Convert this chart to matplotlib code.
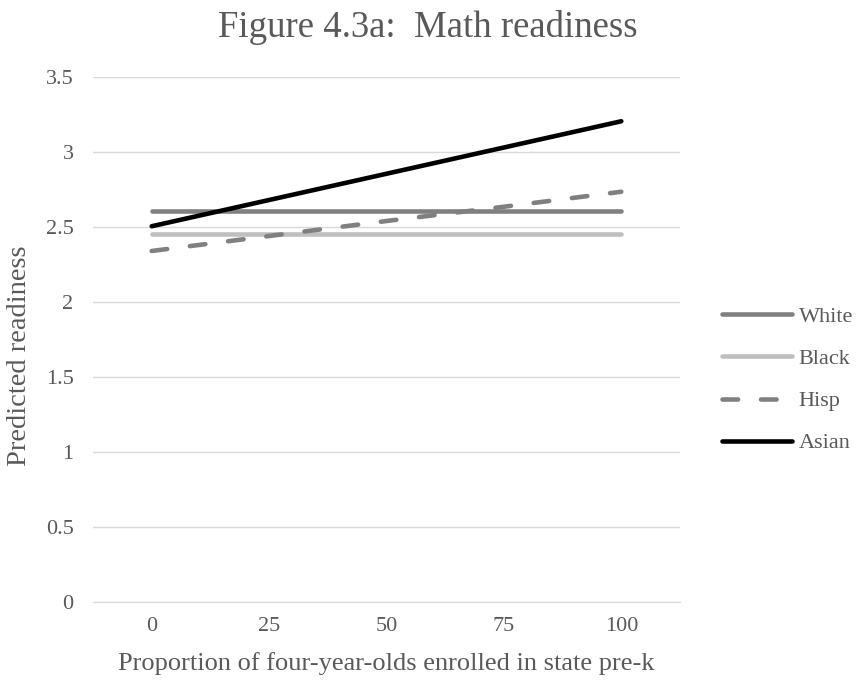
import matplotlib.pyplot as plt

plt.rcParams["font.family"] = ["Liberation Serif", "DejaVu Serif"]

x_labels = ["0", "25", "50", "75", "100"]
x_vals = [0, 25, 50, 75, 100]
y_ticks = [0, 0.5, 1, 1.5, 2, 2.5, 3, 3.5]
y_labels = ["0", "0.5", "1", "1.5", "2", "2.5", "3", "3.5"]

white = [2.61, 2.61, 2.61, 2.61, 2.61]
black = [2.455, 2.455, 2.455, 2.455, 2.455]
hisp = [2.34, 2.44, 2.54, 2.635, 2.735]
asian = [2.505, 2.68, 2.855, 3.03, 3.205]

text_color = "#595959"

fig = plt.figure(figsize=(8.61, 6.85), dpi=100)
ax = fig.add_axes([93 / 861, 1 - 602 / 685, 587 / 861, 525 / 685])

lw = 3.3
ax.plot(x_vals, white, color="#808080", lw=lw, solid_capstyle="round", label="White")
ax.plot(x_vals, black, color="#bfbfbf", lw=lw, solid_capstyle="round", label="Black")
ax.plot(x_vals, hisp, color="#808080", lw=lw, linestyle=(0, (3.4, 5.0)),
        dash_capstyle="round", label="Hisp")
ax.plot(x_vals, asian, color="#000000", lw=lw, solid_capstyle="round", label="Asian")

ax.set_xlim(-12.5, 112.5)
ax.set_ylim(0, 3.5)
ax.set_xticks(x_vals)
ax.set_xticklabels(x_labels)
ax.set_yticks(y_ticks)
ax.set_yticklabels(y_labels)
ax.tick_params(length=0, labelsize=16, labelcolor=text_color)
ax.tick_params(axis="y", pad=14)
ax.tick_params(axis="x", pad=11)
ax.grid(axis="y", color="#d9d9d9", lw=1)
ax.set_axisbelow(True)
for side in ["top", "right", "left"]:
    ax.spines[side].set_visible(False)
ax.spines["bottom"].set_color("#d9d9d9")

ax.set_xlabel("Proportion of four-year-olds enrolled in state pre-k",
              fontsize=19, color=text_color)
ax.xaxis.set_label_coords(0.5, -0.095)
ax.set_ylabel("Predicted readiness", fontsize=20.5, color=text_color)
ax.yaxis.set_label_coords(-0.104, 0.47)
fig.suptitle("Figure 4.3a:  Math readiness", x=0.497, y=1 - 37 / 685,
             va="baseline", fontsize=26.5, color=text_color)

leg = ax.legend(loc="center left", bbox_to_anchor=(722 / 861, 1 - 380 / 685),
                bbox_transform=fig.transFigure, frameon=False, fontsize=16,
                borderaxespad=0, borderpad=0, handlelength=3.15,
                handletextpad=0.3, labelspacing=0.97)
for t in leg.get_texts():
    t.set_color(text_color)

plt.savefig("out.png", dpi=100)
plt.close()
